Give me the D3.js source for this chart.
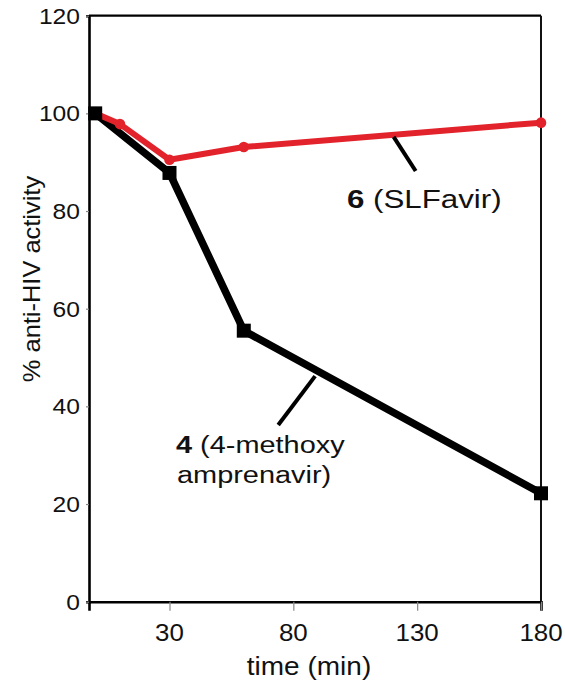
<!DOCTYPE html>
<html>
<head>
<meta charset="utf-8">
<script src="https://cdn.jsdelivr.net/npm/d3@7"></script>
<style>
  html, body { margin: 0; padding: 0; background: #fff; }
  svg { display: block; font-family: "Liberation Sans", Arial, Helvetica, sans-serif; }
</style>
</head>
<body>
<svg id="chart" width="565" height="680"></svg>
<script>
// Time course of anti-HIV activity (% of initial) for two compounds
const timesMethoxy = [0, 30, 60, 180];
const activityMethoxy = [100, 87.8, 55.5, 22.2];

const timesSLF = [0, 10, 30, 60, 180];
const activitySLF = [100, 97.8, 90.5, 93.1, 98.1];

const xTicks = [30, 80, 130, 180];
const yTicks = [0, 20, 40, 60, 80, 100, 120];

const xTitle = "time (min)";
const yTitle = "% anti-HIV activity";

const svg = d3.select("#chart");

const x = d3.scaleLinear().domain([-2.5, 180]).range([89, 541]);
const y = d3.scaleLinear().domain([0, 120]).range([601.7, 15.7]);

const red = "#e3232b";
const ink = "#111";

// frame: top and right edges
svg.append("line").attr("x1", x(-2.5)).attr("x2", x(180)).attr("y1", y(120)).attr("y2", y(120))
  .attr("stroke", "#000").attr("stroke-width", 2.2);
svg.append("line").attr("x1", x(180)).attr("x2", x(180)).attr("y1", y(120)).attr("y2", y(0))
  .attr("stroke", "#111").attr("stroke-width", 2);

// x axis
const xAxis = svg.append("g")
  .attr("transform", `translate(0,${y(0)})`)
  .call(d3.axisBottom(x).tickValues(xTicks).tickSize(9).tickFormat(""));
xAxis.select(".domain").attr("stroke", "#000").attr("stroke-width", 2.6);
xAxis.selectAll(".tick line").attr("stroke", "#888").attr("stroke-width", 1.2);

svg.append("g").selectAll("text").data(xTicks).join("text")
  .attr("transform", d => `translate(${x(d)},641) scale(1.08,1)`)
  .attr("text-anchor", "middle")
  .attr("font-size", 24)
  .attr("fill", ink)
  .text(d => d);

// y axis
const yAxis = svg.append("g")
  .attr("transform", `translate(${x(-2.5)},0)`)
  .call(d3.axisLeft(y).tickValues(yTicks).tickSize(3).tickFormat(""));
yAxis.select(".domain").attr("stroke", "#000").attr("stroke-width", 2.6);
yAxis.selectAll(".tick line").attr("stroke", "#888").attr("stroke-width", 1.2);

svg.append("g").selectAll("text").data(yTicks).join("text")
  .attr("transform", d => `translate(80,${y(d) + 7.8}) scale(1.12,1)`)
  .attr("text-anchor", "end")
  .attr("font-size", 22)
  .attr("fill", ink)
  .text(d => d);

// axis titles
svg.append("text")
  .attr("transform", `translate(309,675) scale(1.12,1)`)
  .attr("text-anchor", "middle")
  .attr("font-size", 25)
  .attr("fill", ink)
  .text(xTitle);

svg.append("text")
  .attr("transform", `translate(40,279) rotate(-90) scale(1.06,1)`)
  .attr("text-anchor", "middle")
  .attr("font-size", 24)
  .attr("fill", ink)
  .text(yTitle);

// series
const methoxy = timesMethoxy.map((t, i) => ({ t, v: activityMethoxy[i] }));
const slf = timesSLF.map((t, i) => ({ t, v: activitySLF[i] }));
const line = d3.line().x(d => x(d.t)).y(d => y(d.v));

svg.append("path").datum(methoxy)
  .attr("d", line).attr("fill", "none")
  .attr("stroke", "#000").attr("stroke-width", 7.5).attr("stroke-linejoin", "round");

svg.append("path").datum(slf)
  .attr("d", line).attr("fill", "none")
  .attr("stroke", red).attr("stroke-width", 6).attr("stroke-linejoin", "round");

svg.append("g").selectAll("circle").data(slf).join("circle")
  .attr("cx", d => x(d.t)).attr("cy", d => y(d.v)).attr("r", 5.3)
  .attr("fill", red);

const sq = 14;
svg.append("g").selectAll("rect").data(methoxy).join("rect")
  .attr("x", d => x(d.t) - sq / 2).attr("y", d => y(d.v) - sq / 2)
  .attr("width", sq).attr("height", sq).attr("fill", "#000");

// leader lines and labels
const leaders = [
  { from: [120.5, 95.2], to: [129.4, 88.2] },
  { from: [88.8, 46.2], to: [73.9, 36.2] }
];
svg.append("g").selectAll("line").data(leaders).join("line")
  .attr("x1", d => x(d.from[0])).attr("y1", d => y(d.from[1]))
  .attr("x2", d => x(d.to[0])).attr("y2", d => y(d.to[1]))
  .attr("stroke", "#000").attr("stroke-width", 4);

const lbl6 = svg.append("text")
  .attr("transform", `translate(347,208) scale(1.18,1)`)
  .attr("font-size", 26.5).attr("fill", ink);
lbl6.append("tspan").attr("font-weight", "bold").text("6");
lbl6.append("tspan").text(" (SLFavir)");

const lbl4 = svg.append("text")
  .attr("transform", `translate(176,453) scale(1.18,1)`)
  .attr("font-size", 24.5).attr("fill", ink);
lbl4.append("tspan").attr("font-weight", "bold").text("4");
lbl4.append("tspan").text(" (4-methoxy");
svg.append("text")
  .attr("transform", `translate(177,483) scale(1.18,1)`)
  .attr("font-size", 24.5).attr("fill", ink)
  .text("amprenavir)");
</script>
</body>
</html>
